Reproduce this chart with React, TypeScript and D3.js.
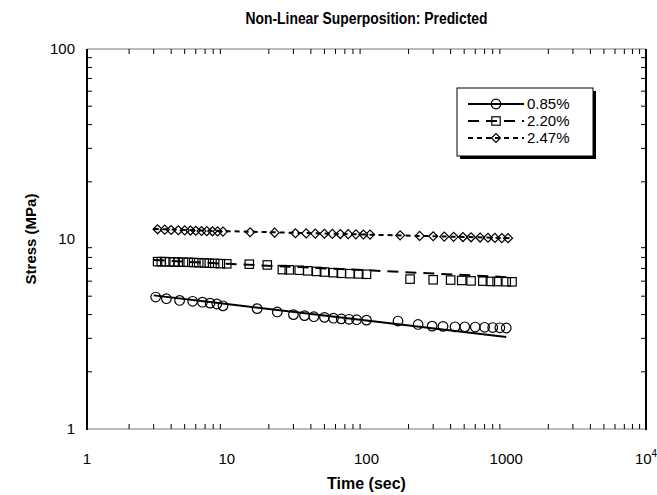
import React from "react";
import * as d3 from "d3";

const title = "Non-Linear Superposition: Predicted";
const xLabel = "Time (sec)";
const yLabel = "Stress (MPa)";

const xTickVals = [1, 10, 100, 1000, 10000];
const xTickLabels = ["1", "10", "100", "1000", "10^4"];
const yTickVals = [1, 10, 100];
const yTickLabels = ["1", "10", "100"];

const seriesNames = ["0.85%", "2.20%", "2.47%"];

// 0.85% measured (circles)
const circleT = [3.1, 3.7, 4.6, 5.7, 6.7, 7.6, 8.5, 9.4, 16.5, 23, 30, 36, 42, 50, 58, 66, 75, 85, 100, 168, 234, 295, 353, 430, 505, 600, 700, 800, 900, 1000];
const circleV = [4.95, 4.85, 4.75, 4.7, 4.65, 4.6, 4.55, 4.45, 4.3, 4.13, 4.0, 3.95, 3.9, 3.87, 3.83, 3.8, 3.78, 3.76, 3.74, 3.7, 3.55, 3.48, 3.47, 3.45, 3.45, 3.44, 3.43, 3.42, 3.41, 3.4];
// 0.85% predicted line
const line1T = [3, 10, 100, 1000];
const line1V = [5.05, 4.55, 3.72, 3.05];

// 2.20% measured (squares)
const squareT = [3.2, 3.4, 3.6, 3.9, 4.2, 4.5, 4.9, 5.3, 5.8, 6.3, 6.9, 7.5, 8.2, 9, 10, 14.5, 19.5, 25, 28, 33, 38, 44, 50, 58, 66, 76, 88, 100, 205, 300, 400, 480, 560, 680, 770, 860, 1000, 1100];
const squareV = [7.6, 7.6, 7.6, 7.58, 7.57, 7.56, 7.55, 7.54, 7.52, 7.5, 7.48, 7.46, 7.44, 7.42, 7.4, 7.37, 7.3, 6.9, 6.88, 6.85, 6.8, 6.75, 6.7, 6.65, 6.6, 6.57, 6.55, 6.52, 6.15, 6.1, 6.08, 6.05, 6.02, 6.0, 5.98, 5.97, 5.96, 5.95];
const line2T = [3, 10, 100, 1000, 1100];
const line2V = [7.75, 7.4, 6.85, 6.3, 6.25];

// 2.47% measured (diamonds)
const diamondT = [3.2, 3.6, 4.0, 4.5, 5.0, 5.5, 6.0, 6.6, 7.2, 7.9, 8.6, 9.4, 14.7, 22, 31, 37, 43, 50, 57, 65, 74, 84, 95, 106, 174, 240, 300, 360, 420, 490, 560, 650, 740, 830, 930, 1030];
const diamondV = [11.25, 11.2, 11.15, 11.12, 11.1, 11.08, 11.05, 11.02, 11.0, 10.98, 10.96, 10.94, 10.85, 10.8, 10.72, 10.7, 10.68, 10.66, 10.64, 10.62, 10.6, 10.58, 10.56, 10.55, 10.45, 10.38, 10.34, 10.3, 10.27, 10.24, 10.21, 10.18, 10.15, 10.13, 10.11, 10.1];
const line3T = [3, 10, 100, 1000, 1100];
const line3V = [11.3, 11.0, 10.55, 10.12, 10.08];

const FONT = "'Liberation Sans', Arial, Helvetica, sans-serif";

export default function App() {
  const W = 657, H = 495;
  const L = 87, R = 646, T = 49, B = 429;
  const x = d3.scaleLog().domain([1, 10000]).range([L, R]);
  const y = d3.scaleLog().domain([1, 100]).range([B, T]);

  const lineGen = d3
    .line<[number, number]>()
    .x((d) => x(d[0]))
    .y((d) => y(d[1]));

  const zip = (a: number[], b: number[]) => a.map((t, i) => [t, b[i]] as [number, number]);

  const xMinor: number[] = [];
  for (let dec = 1; dec < 10000; dec *= 10) for (let k = 2; k <= 9; k++) xMinor.push(dec * k);
  const yMinor: number[] = [];
  for (let dec = 1; dec < 100; dec *= 10) for (let k = 2; k <= 9; k++) yMinor.push(dec * k);
  const xMajorInner = [10, 100, 1000];

  const circle = (cx: number, cy: number, key: string) => (
    <circle key={key} cx={cx} cy={cy} r={4.8} fill="none" stroke="#000" strokeWidth={1.2} />
  );
  const square = (cx: number, cy: number, key: string) => (
    <rect key={key} x={cx - 4.2} y={cy - 4.2} width={8.4} height={8.4} fill="none" stroke="#000" strokeWidth={1.2} />
  );
  const diamond = (cx: number, cy: number, key: string) => (
    <path key={key} d={`M${cx - 4.5},${cy}L${cx},${cy - 4.5}L${cx + 4.5},${cy}L${cx},${cy + 4.5}Z`} fill="none" stroke="#000" strokeWidth={1.2} />
  );

  const dashes = ["", "11,7", "5,4"];
  const markers = [circle, square, diamond];

  const legX = 457, legY = 88, legW = 136, legH = 68;
  const rowY = [104, 121, 138];

  return (
    <svg width={W} height={H} style={{ position: "absolute", left: 0, top: 0, background: "#fff" }} fontFamily={FONT}>
      <rect x={0} y={0} width={W} height={H} fill="#fff" />
      {/* title */}
      <text x={(L + R) / 2} y={24} textAnchor="middle" fontSize={16} fontWeight="bold" textLength={242} lengthAdjust="spacingAndGlyphs">{title}</text>
      {/* axes frame */}
      <line x1={L} y1={T} x2={R} y2={T} stroke="#777" strokeWidth={1} />
      <line x1={L} y1={B} x2={R} y2={B} stroke="#777" strokeWidth={1} />
      <line x1={L} y1={T} x2={L} y2={B + 1} stroke="#000" strokeWidth={2} />
      <line x1={R} y1={T} x2={R} y2={B + 1} stroke="#000" strokeWidth={2} />
      {/* x ticks */}
      {xMinor.map((v, i) => (
        <g key={"xm" + i}>
          <line x1={x(v)} x2={x(v)} y1={B} y2={B - (xMajorInner.includes(v) ? 10 : 5)} stroke="#000" />
          <line x1={x(v)} x2={x(v)} y1={T} y2={T + (xMajorInner.includes(v) ? 10 : 5)} stroke="#000" />
        </g>
      ))}
      {yMinor.map((v, i) => (
        <g key={"ym" + i}>
          <line y1={y(v)} y2={y(v)} x1={L} x2={L + (v === 10 ? 10 : 5)} stroke="#000" />
          <line y1={y(v)} y2={y(v)} x1={R} x2={R - (v === 10 ? 10 : 5)} stroke="#000" />
        </g>
      ))}
      {/* x tick labels */}
      {xTickVals.map((v, i) => (
        <text key={"xl" + i} x={x(v)} y={464} textAnchor="middle" fontSize={15}>
          {xTickLabels[i].includes("^") ? (
            <>
              {xTickLabels[i].split("^")[0]}
              <tspan fontSize={10} dy={-7}>{xTickLabels[i].split("^")[1]}</tspan>
            </>
          ) : (
            xTickLabels[i]
          )}
        </text>
      ))}
      {yTickVals.map((v, i) => (
        <text key={"yl" + i} x={75} y={y(v) + 5} textAnchor="end" fontSize={15}>{yTickLabels[i]}</text>
      ))}
      {/* axis labels */}
      <text x={(L + R) / 2} y={489} textAnchor="middle" fontSize={16} fontWeight="bold">{xLabel}</text>
      <text transform={`translate(36,${(T + B) / 2}) rotate(-90)`} textAnchor="middle" fontSize={15} fontWeight="bold">{yLabel}</text>

      {/* lines */}
      <path d={lineGen(zip(line1T, line1V)) || ""} fill="none" stroke="#000" strokeWidth={2} />
      <path d={lineGen(zip(line2T, line2V)) || ""} fill="none" stroke="#000" strokeWidth={2} strokeDasharray={dashes[1]} />
      <path d={lineGen(zip(line3T, line3V)) || ""} fill="none" stroke="#000" strokeWidth={2} strokeDasharray={dashes[2]} />

      {/* markers */}
      {circleT.map((t, i) => circle(x(t), y(circleV[i]), "c" + i))}
      {squareT.map((t, i) => square(x(t), y(squareV[i]), "s" + i))}
      {diamondT.map((t, i) => diamond(x(t), y(diamondV[i]), "d" + i))}

      {/* legend */}
      <rect x={legX + 3} y={legY + 3} width={legW} height={legH} fill="#000" />
      <rect x={legX} y={legY} width={legW} height={legH} fill="#fff" stroke="#000" strokeWidth={1} />
      {seriesNames.map((name, i) => (
        <g key={"leg" + i}>
          <line x1={468} x2={524} y1={rowY[i]} y2={rowY[i]} stroke="#000" strokeWidth={2} strokeDasharray={dashes[i] || undefined} />
          {markers[i](496, rowY[i], "lm" + i)}
          <text x={527} y={rowY[i] + 5} fontSize={15}>{name}</text>
        </g>
      ))}
    </svg>
  );
}
